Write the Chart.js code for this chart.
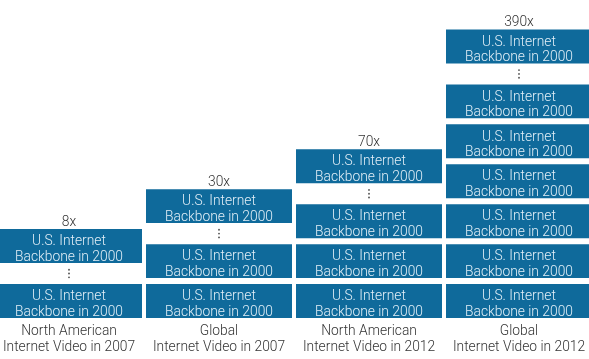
<!DOCTYPE html>
<html>
<head>
<meta charset="utf-8">
<script src="https://cdn.jsdelivr.net/npm/chart.js@4/dist/chart.umd.min.js"></script>
<style>
html,body{margin:0;padding:0;background:#fff;overflow:hidden;width:589px;height:359px;}
#wrap{position:absolute;left:-6px;top:0;width:600px;height:359px;}
</style>
</head>
<body>
<div id="wrap"><canvas id="c" width="600" height="359"></canvas></div>
<script>
// ---- data ----
const categories = [
  ["North American", "Internet Video in 2007"],
  ["Global", "Internet Video in 2007"],
  ["North American", "Internet Video in 2012"],
  ["Global", "Internet Video in 2012"]
];
const multiples = [8, 30, 70, 390];          // traffic multiple vs. 2000 U.S. backbone
const blocksShown = [2, 3, 4, 7];            // blocks drawn per column
const blockLabel = ["U.S. Internet", "Backbone in 2000"];

// ---- layout constants (not data) ----
const BLUE = '#0f6a9b';
const SPACER = 0.377;   // height of the "⋮" gap, in block units
const maxLevels = Math.max(...blocksShown) - 1;

const datasets = [];
for (let L = 0; L < maxLevels; L++) {
  datasets.push({
    label: 'block' + L, kind: 'block',
    data: blocksShown.map(n => (L < n - 1 ? 1 : 0)),
    backgroundColor: BLUE
  });
}
datasets.push({
  label: 'gap', kind: 'gap',
  data: blocksShown.map(() => SPACER),
  backgroundColor: 'rgba(0,0,0,0)', borderWidth: 0
});
datasets.push({
  label: 'top', kind: 'top',
  data: blocksShown.map(() => 1),
  backgroundColor: BLUE
});

const overlay = {
  id: 'overlay',
  afterDatasetsDraw(chart) {
    const ctx = chart.ctx;
    ctx.save();
    chart.data.datasets.forEach((ds, di) => {
      const meta = chart.getDatasetMeta(di);
      meta.data.forEach((el, i) => {
        const v = ds.data[i];
        if (!v) return;
        const top = Math.min(el.y, el.base), bot = Math.max(el.y, el.base);
        const cy = (top + bot) / 2;
        if (ds.kind === 'gap') {
          ctx.fillStyle = '#555';
          for (let k = -1; k <= 1; k++) {
            ctx.beginPath();
            ctx.arc(el.x, cy + k * 3.8, 0.95, 0, Math.PI * 2);
            ctx.fill();
          }
          return;
        }
        ctx.fillStyle = '#e2eff7';
        ctx.font = '300 13.8px Roboto';
        ctx.textAlign = 'center';
        ctx.textBaseline = 'alphabetic';
        ctx.fillText(blockLabel[0], el.x, cy - 0.8);
        ctx.fillText(blockLabel[1], el.x, cy + 14.8);
        if (ds.kind === 'top') {
          ctx.fillStyle = '#333';
          ctx.font = '300 13.8px Roboto';
          ctx.fillText(multiples[i] + 'x', el.x, top);
        }
      });
    });
    ctx.restore();
  }
};

new Chart(document.getElementById('c'), {
  type: 'bar',
  data: { labels: categories, datasets },
  options: {
    responsive: false,
    animation: false,
    layout: { padding: 0 },
    datasets: {
      bar: {
        categoryPercentage: 1,
        barPercentage: 146 / 150,
        borderColor: '#ffffff',
        borderWidth: { top: 3, bottom: 3, left: 0, right: 0 },
        borderSkipped: false
      }
    },
    plugins: { legend: { display: false }, tooltip: { enabled: false } },
    scales: {
      x: {
        stacked: true,
        grid: { display: false, drawTicks: false },
        border: { display: false },
        ticks: {
          padding: 3,
          color: '#333',
          font: { family: 'Roboto', size: 13.8, weight: '300', lineHeight: 16 / 13.8 },
          maxRotation: 0, autoSkip: false
        }
      },
      y: {
        stacked: true, display: false,
        min: 0, max: 8.04
      }
    }
  },
  plugins: [overlay]
});
</script>
</body>
</html>
